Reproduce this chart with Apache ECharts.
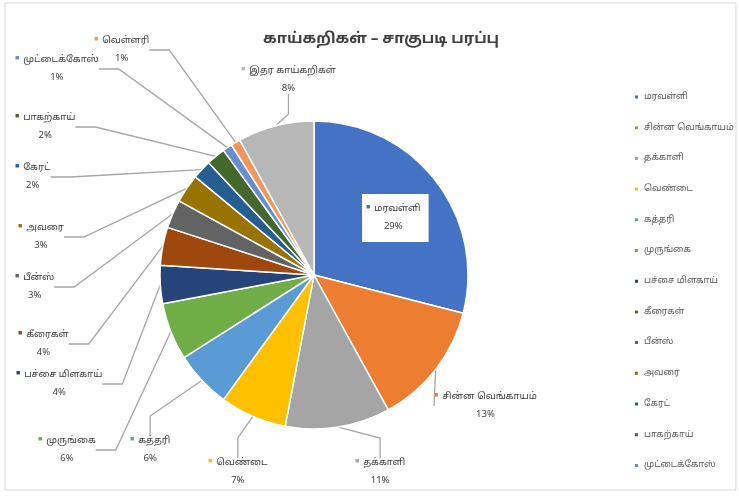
<!DOCTYPE html>
<html>
<head>
<meta charset="utf-8">
<script src="https://cdn.jsdelivr.net/npm/echarts@6/dist/echarts.min.js"></script>
<style>
  html, body { margin: 0; padding: 0; background: #fff; }
  #chart { width: 739px; height: 497px; }
</style>
</head>
<body>
<div id="chart"></div>
<script>
// categories and shares (%)
const names = [
  'மரவள்ளி', 'சின்ன வெங்காயம்', 'தக்காளி', 'வெண்டை', 'கத்தரி', 'முருங்கை',
  'பச்சை மிளகாய்', 'கீரைகள்', 'பீன்ஸ்', 'அவரை', 'கேரட்', 'பாகற்காய்',
  'முட்டைக்கோஸ்', 'வெள்ளரி', 'இதர காய்கறிகள்'
];
const shares = [29, 13, 11, 7, 6, 6, 4, 4, 3, 3, 2, 2, 1, 1, 8];
// names shown in the legend (the rest are cut off in the original)
const legendNames = names.slice(0, 13);

const colors = [
  '#4472C4', '#ED7D31', '#A5A5A5', '#FFC000', '#5B9BD5', '#70AD47',
  '#264478', '#9E480E', '#636363', '#997300', '#255E91', '#43682B',
  '#698ED0', '#F1975A', '#B7B7B7'
];

const font = '"Noto Sans Tamil", "Noto Sans", sans-serif';

// where the data labels sit (left edge, middle of the two-line block), as in the original
const labelSpot = {
  'மரவள்ளி': [362, 218],
  'சின்ன வெங்காயம்': [434, 406],
  'தக்காளி': [355, 472],
  'வெண்டை': [208, 472],
  'கத்தரி': [130, 450],
  'முருங்கை': [38, 450],
  'பச்சை மிளகாய்': [16, 384],
  'கீரைகள்': [18, 344],
  'பீன்ஸ்': [15, 287],
  'அவரை': [18, 237],
  'கேரட்': [15, 177],
  'பாகற்காய்': [15, 127],
  'முட்டைக்கோஸ்': [15, 69],
  'வெள்ளரி': [94, 50],
  'இதர காய்கறிகள்': [241, 80]
};

const pieData = names.map((n, i) => {
  const item = {
    name: n,
    value: shares[i],
    label: { rich: { dot: { color: colors[i], fontSize: 7, padding: [0, 4, 2, 0] } } }
  };
  if (i === 0) {
    // first slice has its label inside, on a white box
    item.label.position = 'inside';
    item.label.backgroundColor = '#fff';
    item.label.padding = [6, 8, 6, 4];
  }
  return item;
});

const chart = echarts.init(document.getElementById('chart'));
chart.setOption({
  color: colors,
  animation: false,
  title: {
    text: 'காய்கறிகள் – சாகுபடி பரப்பு',
    left: 376,
    top: 27,
    textAlign: 'center',
    textStyle: { fontFamily: font, fontSize: 15, fontWeight: 'bold', color: '#404040' }
  },
  graphic: [{
    type: 'rect',
    shape: { x: 5, y: 3, width: 731, height: 487 },
    style: { fill: 'none', stroke: '#d9d9d9', lineWidth: 1 },
    silent: true
  }],
  legend: {
    orient: 'vertical',
    left: 628,
    top: 86,
    data: legendNames,
    icon: 'rect',
    itemWidth: 5,
    itemHeight: 5,
    itemGap: 18.7,
    textStyle: { fontFamily: font, fontSize: 9, color: '#595959', lineHeight: 12 }
  },
  series: [{
    type: 'pie',
    center: [314, 275],
    radius: 154,
    startAngle: 90,
    clockwise: true,
    itemStyle: { borderColor: '#fff', borderWidth: 1.5 },
    label: {
      show: true,
      position: 'outside',
      fontFamily: font,
      color: '#404040',
      formatter: p => '{dot|■}{name|' + p.name + '}\n{pct|' + p.value + '%}',
      rich: {
        name: { fontFamily: font, fontSize: 9.5, color: '#404040', lineHeight: 18 },
        pct: { fontFamily: font, fontSize: 9.5, color: '#404040', lineHeight: 18, align: 'center' }
      }
    },
    labelLine: {
      show: true,
      length: 15,
      length2: 20,
      lineStyle: { color: '#a6a6a6', width: 1.3 }
    },
    labelLayout: p => {
      const s = labelSpot[names[p.dataIndex]];
      return { x: s[0], y: s[1], align: 'left', verticalAlign: 'middle' };
    },
    data: pieData
  }]
});
</script>
</body>
</html>
